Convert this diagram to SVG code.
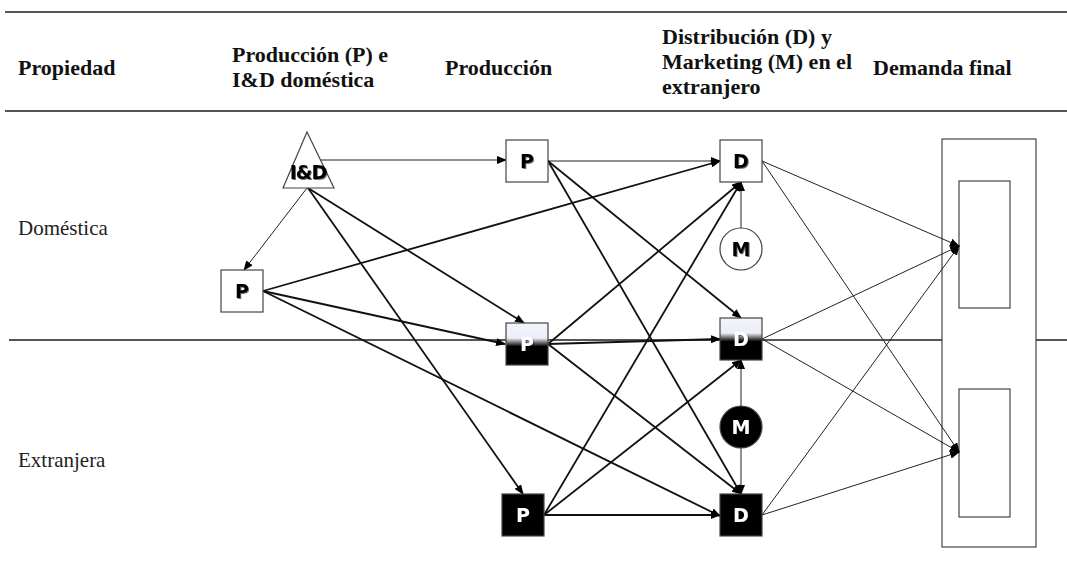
<svg xmlns="http://www.w3.org/2000/svg" width="1067" height="563" viewBox="0 0 1067 563">
<style>
.hdr{font-family:"Liberation Serif","Times New Roman",serif;font-size:22px;font-weight:bold;fill:#111}
.row{font-family:"Liberation Serif","Times New Roman",serif;font-size:21px;fill:#222}
.rule{stroke:#555;stroke-width:2;fill:none}
.box{stroke:#444;stroke-width:1.2}
.lbl{font-family:"DejaVu Sans","Liberation Sans",sans-serif;font-size:19px;font-weight:bold;text-anchor:middle;filter:url(#sh)}
.thin{stroke:#222;stroke-width:1;fill:none;marker-end:url(#ah)}
.thick{stroke:#111;stroke-width:1.8;fill:none;marker-end:url(#ah)}
</style>
<defs>
<marker id="ah" markerUnits="userSpaceOnUse" markerWidth="10" markerHeight="8" refX="9" refY="4" orient="auto">
<path d="M0,0 L10,4 L0,8 z" fill="#000"/>
</marker>
<linearGradient id="half" x1="0" y1="0" x2="0" y2="1">
<stop offset="0" stop-color="#f3f4fc"/>
<stop offset="0.36" stop-color="#eceef8"/>
<stop offset="0.46" stop-color="#777"/>
<stop offset="0.56" stop-color="#000"/>
<stop offset="1" stop-color="#000"/>
</linearGradient>
<filter id="sh" x="-20%" y="-20%" width="140%" height="140%">
<feDropShadow dx="1" dy="1" stdDeviation="0.7" flood-color="#000" flood-opacity="0.55"/>
</filter>
</defs>

<g id="header">
<line class="rule" x1="5" y1="12" x2="1067" y2="12"/>
<line class="rule" x1="5" y1="111" x2="1067" y2="111"/>
<text class="hdr" x="18" y="75">Propiedad</text>
<text class="hdr" x="232" y="62">Producción (P) e</text>
<text class="hdr" x="232" y="87">I&amp;D doméstica</text>
<text class="hdr" x="445" y="75">Producción</text>
<text class="hdr" x="662" y="44">Distribución (D) y</text>
<text class="hdr" x="662" y="69">Marketing (M) en el</text>
<text class="hdr" x="662" y="94">extranjero</text>
<text class="hdr" x="873" y="75">Demanda final</text>
</g>

<g id="rows">
<text class="row" x="18" y="235">Doméstica</text>
<text class="row" x="18" y="467">Extranjera</text>
<line class="rule" x1="9" y1="340" x2="1067" y2="340"/>
</g>

<g id="demanda">
<rect class="box" x="942" y="139" width="94" height="408" fill="#fff"/>
<rect class="box" x="959" y="181" width="51" height="127" fill="#fff"/>
<rect class="box" x="959" y="389" width="51" height="128" fill="#fff"/>
</g>

<g id="connectors">
<line class="thin" x1="321" y1="160" x2="506" y2="160"/>
<line class="thin" x1="307" y1="188" x2="244" y2="270"/>
<line class="thick" x1="308" y1="188" x2="524" y2="323"/>
<line class="thick" x1="308" y1="188" x2="523" y2="494"/>
<line class="thick" x1="263" y1="291" x2="720" y2="161"/>
<line class="thick" x1="263" y1="291" x2="505" y2="344"/>
<line class="thick" x1="263" y1="291" x2="720" y2="516"/>
<line class="thin" x1="548" y1="161" x2="720" y2="161"/>
<line class="thick" x1="548" y1="161" x2="741" y2="318"/>
<line class="thick" x1="548" y1="161" x2="741" y2="494"/>
<line class="thick" x1="548" y1="344" x2="741" y2="182"/>
<line class="thick" x1="548" y1="344" x2="720" y2="339"/>
<line class="thick" x1="548" y1="344" x2="741" y2="494"/>
<line class="thick" x1="544" y1="515" x2="741" y2="182"/>
<line class="thick" x1="544" y1="515" x2="741" y2="360"/>
<line class="thick" x1="544" y1="515" x2="720" y2="515"/>
<line class="thin" x1="741" y1="228" x2="741" y2="182"/>
<line class="thin" x1="741" y1="406" x2="741" y2="360"/>
<line class="thin" x1="741" y1="448" x2="741" y2="494"/>
<line class="thin" x1="762" y1="161" x2="959" y2="246"/>
<line class="thin" x1="762" y1="161" x2="959" y2="452"/>
<line class="thin" x1="762" y1="339" x2="959" y2="246"/>
<line class="thin" x1="762" y1="339" x2="959" y2="452"/>
<line class="thin" x1="762" y1="515" x2="959" y2="246"/>
<line class="thin" x1="762" y1="515" x2="959" y2="452"/>
</g>

<g id="node-ID">
<polygon class="box" points="307,132 334,188 283,188" fill="#fff"/>
<text class="lbl" x="308" y="179" fill="#000" font-size="17" letter-spacing="-1">I&amp;D</text>
</g>
<g id="node-P-dom">
<rect class="box" x="221" y="270" width="42" height="42" fill="#fff"/>
<text class="lbl" x="242" y="298" fill="#000">P</text>
</g>
<g id="node-P-top">
<rect class="box" x="506" y="140" width="42" height="42" fill="#fff"/>
<text class="lbl" x="527" y="168" fill="#000">P</text>
</g>
<g id="node-P-mid">
<rect class="box" x="506" y="323" width="42" height="42" fill="url(#half)"/>
<text class="lbl" x="527" y="351" fill="#fff">P</text>
</g>
<g id="node-P-bot">
<rect class="box" x="502" y="494" width="42" height="42" fill="#000"/>
<text class="lbl" x="523" y="522" fill="#fff">P</text>
</g>
<g id="node-D-top">
<rect class="box" x="720" y="140" width="42" height="42" fill="#fff"/>
<text class="lbl" x="741" y="168" fill="#000">D</text>
</g>
<g id="node-D-mid">
<rect class="box" x="720" y="318" width="42" height="42" fill="url(#half)"/>
<text class="lbl" x="741" y="346" fill="#fff">D</text>
</g>
<g id="node-D-bot">
<rect class="box" x="720" y="494" width="42" height="42" fill="#000"/>
<text class="lbl" x="741" y="522" fill="#fff">D</text>
</g>
<g id="node-M-top">
<circle class="box" cx="741" cy="249" r="21" fill="#fff"/>
<text class="lbl" x="741" y="256" fill="#000">M</text>
</g>
<g id="node-M-bot">
<circle class="box" cx="741" cy="427" r="21" fill="#000"/>
<text class="lbl" x="741" y="434" fill="#fff">M</text>
</g>
</svg>
